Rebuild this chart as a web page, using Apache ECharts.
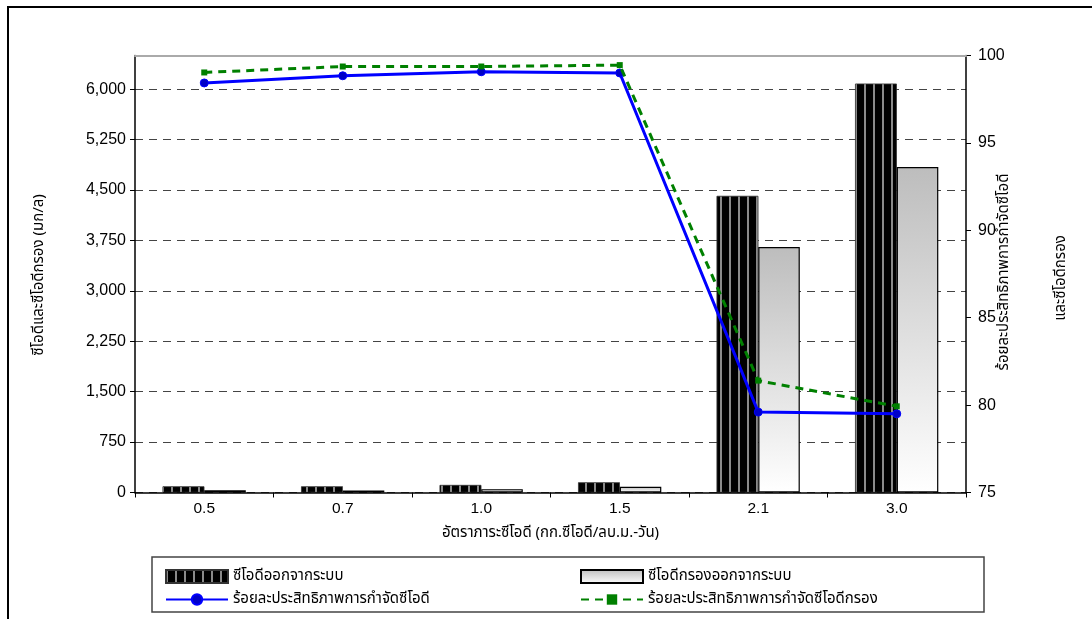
<!DOCTYPE html>
<html><head><meta charset="utf-8">
<script src="https://cdn.jsdelivr.net/npm/echarts@6/dist/echarts.min.js"></script>
<style>html,body{margin:0;padding:0;background:#fff}#c{width:1092px;height:619px}</style>
</head><body><div id="c"></div>
<script>
const categories = ['0.5','0.7','1.0','1.5','2.1','3.0'];
const codOut = [90, 90, 110, 150, 4410, 6080];
const filteredCodOut = [35, 30, 50, 85, 3650, 4840];
const codRemoval = [98.43, 98.84, 99.07, 99.0, 79.6, 79.5];
const filteredCodRemoval = [99.03, 99.37, 99.37, 99.45, 81.4, 79.93];
const leftTicks = {min: 0, max: 6500, interval: 750};
const rightTicks = {min: 75, max: 100, interval: 5};
const names = ['ซีโอดีออกจากระบบ','ซีโอดีกรองออกจากระบบ','ร้อยละประสิทธิภาพการกำจัดซีโอดี','ร้อยละประสิทธิภาพการกำจัดซีโอดีกรอง'];

const thaiFont = "'Noto Sans Thai','Noto Serif Thai','Loma','Garuda','Norasi','Kinnari','Waree',sans-serif";
const numFont = "'Liberation Sans', Arial, sans-serif";

const chart = echarts.init(document.getElementById('c'), null, {renderer: 'canvas'});
const legendBase = (name, left, top, icon) => ({
  data: [icon ? {name: name, icon: icon} : name], left: left, top: top, padding: 0, itemWidth: 62, itemHeight: 13, itemGap: 0,
  textStyle: {fontFamily: thaiFont, fontSize: 15, color: '#000'}, selectedMode: false
});
chart.setOption({
  animation: false,
  backgroundColor: '#fff',
  grid: {left: 135, right: 126, top: 55.5, bottom: 126.5, containLabel: false},
  legend: [
    legendBase(names[0], 165, 569, 'rect'),
    legendBase(names[1], 580, 569, 'rect'),
    legendBase(names[2], 165, 592),
    legendBase(names[3], 580, 592)
  ],
  graphic: [
    {type: 'rect', shape: {x: 8, y: 7, width: 1200, height: 700}, style: {fill: null, stroke: '#000', lineWidth: 2}, silent: true, z: -1},
    {type: 'rect', shape: {x: 152, y: 557, width: 832, height: 55}, style: {fill: '#fff', stroke: '#444', lineWidth: 1.5}, silent: true, z: -1},
    {type: 'text', x: 40, y: 275, rotation: Math.PI/2, style: {text: 'ซีโอดีและซีโอดีกรอง (มก/ล)', fontFamily: thaiFont, fontSize: 15, fill: '#000', align: 'center', verticalAlign: 'middle'}},
    {type: 'text', x: 1005, y: 272, rotation: Math.PI/2, style: {text: 'ร้อยละประสิทธิภาพการกำจัดซีโอดี', fontFamily: thaiFont, fontSize: 15, fill: '#000', align: 'center', verticalAlign: 'middle'}},
    {type: 'text', x: 1062, y: 278, rotation: Math.PI/2, style: {text: 'และซีโอดีกรอง', fontFamily: thaiFont, fontSize: 15, fill: '#000', align: 'center', verticalAlign: 'middle'}}
  ],
  xAxis: [{
    type: 'category', data: categories, position: 'bottom',
    name: 'อัตราภาระซีโอดี (กก.ซีโอดี/ลบ.ม.-วัน)', nameLocation: 'middle', nameGap: 34,
    nameTextStyle: {fontFamily: thaiFont, fontSize: 15, color: '#000'},
    axisLine: {lineStyle: {color: '#000', width: 1.5}},
    axisTick: {show: true, alignWithLabel: false, length: 5, lineStyle: {color: '#000'}},
    axisLabel: {fontFamily: numFont, fontSize: 15.5, color: '#000', margin: 8},
    z: 10
  }, {
    type: 'category', data: categories, position: 'top',
    axisLine: {lineStyle: {color: '#aaa', width: 2}}, axisTick: {show: false}, axisLabel: {show: false}, z: 10
  }],
  yAxis: [{
    type: 'value', position: 'left', min: leftTicks.min, max: leftTicks.max, interval: leftTicks.interval,
    axisLine: {show: true, lineStyle: {color: '#000', width: 1.5}},
    axisTick: {show: true, length: 5, lineStyle: {color: '#000'}},
    axisLabel: {fontFamily: numFont, fontSize: 16, color: '#000', margin: 9, showMaxLabel: false,
      formatter: v => v.toLocaleString('en-US')},
    splitLine: {show: true, lineStyle: {color: '#444', type: [8, 6], width: 1}}
  }, {
    type: 'value', position: 'right', min: rightTicks.min, max: rightTicks.max, interval: rightTicks.interval,
    axisLine: {show: true, lineStyle: {color: '#000', width: 1.5}},
    axisTick: {show: true, length: 5, lineStyle: {color: '#000'}},
    axisLabel: {fontFamily: numFont, fontSize: 16, color: '#000', margin: 12},
    splitLine: {show: false}
  }],
  series: [{
    name: names[0], type: 'bar', data: codOut, barGap: '0%', barCategoryGap: '40%',
    itemStyle: {color: '#000', borderColor: '#333', borderWidth: 0.5,
      decal: {symbol: 'rect', symbolSize: 1, dashArrayX: [[1.5, 6.5]], dashArrayY: [10, 0], color: '#8a8a8a', rotation: 0}}
  }, {
    name: names[1], type: 'bar', data: filteredCodOut,
    itemStyle: {color: new echarts.graphic.LinearGradient(0, 0, 0, 1, [{offset: 0, color: '#bdbdbd'}, {offset: 1, color: '#ffffff'}]),
      borderColor: '#000', borderWidth: 1.2}
  }, {
    name: names[2], type: 'line', yAxisIndex: 1, data: codRemoval, z: 5,
    symbol: 'circle', symbolSize: 8,
    lineStyle: {color: '#0000ff', width: 3},
    itemStyle: {color: '#0000c8', borderColor: '#0000ff', borderWidth: 1}
  }, {
    name: names[3], type: 'line', yAxisIndex: 1, data: filteredCodRemoval, z: 6,
    symbol: 'rect', symbolSize: 6,
    lineStyle: {color: '#008000', width: 3, type: [8, 6]},
    itemStyle: {color: '#008000'}
  }]
});
</script></body></html>
